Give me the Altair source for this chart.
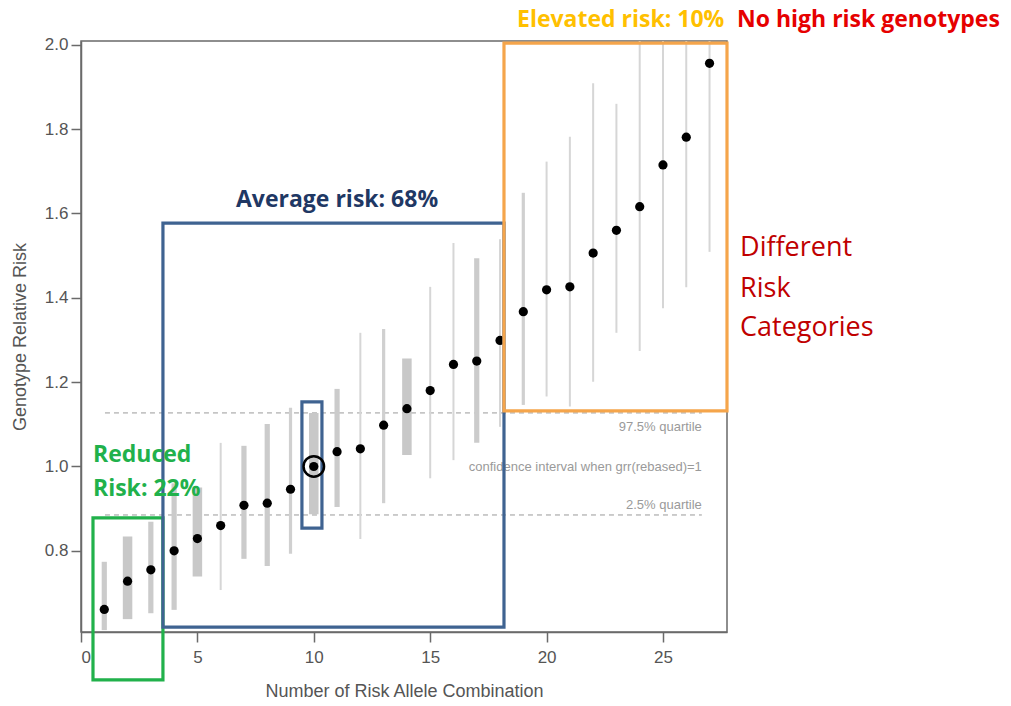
import altair as alt
import pandas as pd

# ---- data ----
combo = list(range(1, 28))
grr = [0.661, 0.728, 0.755, 0.800, 0.829, 0.860, 0.908, 0.913, 0.946, 1.000,
       1.035, 1.042, 1.098, 1.137, 1.180, 1.242, 1.250, 1.299, 1.367, 1.419,
       1.426, 1.506, 1.560, 1.616, 1.715, 1.781, 1.956]
ci_low = [0.612, 0.638, 0.652, 0.660, 0.739, 0.707, 0.781, 0.764, 0.793, 0.887,
          0.904, 0.828, 0.913, 1.027, 0.972, 1.015, 1.056, 1.094, 1.146, 1.166,
          1.142, 1.201, 1.317, 1.274, 1.375, 1.425, 1.509]
ci_high = [0.774, 0.834, 0.869, 0.960, 0.950, 1.056, 1.049, 1.101, 1.139, 1.127,
           1.184, 1.317, 1.326, 1.256, 1.426, 1.530, 1.494, 1.539, 1.649, 1.723,
           1.782, 1.909, 1.860, 2.050, 2.050, 2.050, 2.050]
weight = ["medium", "thick", "medium", "medium", "thick", "thin", "medium", "medium",
          "narrow", "thick", "medium", "thin", "narrow", "thick", "thin", "thin",
          "medium", "thin", "narrow", "thin", "thin", "thin", "thin", "thin",
          "thin", "thin", "thin"]
quartile_levels = [1.127, 0.885]
quartile_labels = ["97.5% quartile", "confidence interval when grr(rebased)=1", "2.5% quartile"]

# ---- layout / styles ----
W, H = 646, 591
xs = alt.Scale(domain=[0, 27.75], nice=False, zero=False)
ys = alt.Scale(domain=[0.6075, 2.009], nice=False, zero=False)
FONT = "Liberation Sans"
ANN = "Open Sans"
xax = alt.Axis(values=[0, 5, 10, 15, 20, 25], title="Number of Risk Allele Combination",
               grid=False, tickSize=10, labelPadding=7, titlePadding=17)
yax = alt.Axis(values=[0.8, 1.0, 1.2, 1.4, 1.6, 1.8, 2.0], format=".1f",
               title="Genotype Relative Risk", grid=False, tickSize=10,
               labelPadding=3, titlePadding=15)


def X(field="x"):
    return alt.X(f"{field}:Q", scale=xs, axis=xax)


def Y(field="y"):
    return alt.Y(f"{field}:Q", scale=ys, axis=yax)


df = pd.DataFrame({"x": combo, "y": grr, "lo": ci_low, "hi": ci_high, "w": weight})

bar_style = {"thin": (2.0, "#d6d6d6"), "narrow": (3.2, "#d0d0d0"),
             "medium": (5.2, "#cbcbcb"), "thick": (9.5, "#c8c8c8")}
bar_layers = []
for key, (sw, col) in bar_style.items():
    bar_layers.append(
        alt.Chart(df).transform_filter(alt.datum.w == key)
        .mark_rule(clip=True, strokeWidth=sw, color=col)
        .encode(x=X(), y=Y("lo"), y2="hi")
    )

points = alt.Chart(df).mark_point(filled=True, color="black", size=85, opacity=1).encode(
    x=X(), y=Y())

# dashed quartile lines
qdf = pd.DataFrame({"y": quartile_levels, "x": [1.03, 1.03], "x2": [26.67, 26.67]})
qlines = alt.Chart(qdf).mark_rule(color="#9a9a9a", strokeDash=[5, 4], strokeWidth=1).encode(
    x=X(), x2="x2", y=Y())

qtext_df = pd.DataFrame({"x": [26.67] * 3, "y": [1.094, 0.999, 0.909], "t": quartile_labels})
qtext = alt.Chart(qtext_df).mark_text(align="right", baseline="middle", font=FONT,
                                      fontSize=13, color="#9a9a9a").encode(
    x=X(), y=Y(), text="t:N")

# category boxes
boxes_df = pd.DataFrame({
    "x": [0.515, 3.52, 9.49, 18.17],
    "x2": [3.52, 18.17, 10.35, 27.75],
    "y": [0.494, 0.619, 0.854, 1.132],
    "y2": [0.878, 1.577, 1.153, 2.004],
    "c": ["#21b14b", "#3f6391", "#3f6391", "#f5a54b"],
})
boxes = alt.Chart(boxes_df).mark_rect(filled=False, strokeWidth=3.2).encode(
    x=X(), x2="x2", y=Y(), y2="y2", stroke=alt.Stroke("c:N", scale=None))

ring = alt.Chart(pd.DataFrame({"x": [10], "y": [1.0]})).mark_point(
    shape="circle", size=420, filled=False, color="black", strokeWidth=2.5, opacity=1).encode(
    x=X(), y=Y())


def text_layer(rows, size, weight, align="left"):
    d = pd.DataFrame(rows, columns=["x", "y", "t", "c"])
    return alt.Chart(d).mark_text(align=align, baseline="middle", font=ANN, fontSize=size,
                                  fontWeight=weight).encode(
        x=X(), y=Y(), text="t:N", color=alt.Color("c:N", scale=None))


bold_txt = text_layer([
    (11.0, 1.632, "Average risk: 68%", "#1f3864"),
], 23, "bold", align="center")
green_txt = text_layer([
    (0.515, 1.027, "Reduced", "#21b14b"),
    (0.515, 0.947, "Risk: 22%", "#21b14b"),
], 23, "bold")
top_txt = text_layer([
    (18.73, 2.059, "Elevated risk: 10%", "#ffc000"),
    (28.18, 2.059, "No high risk genotypes", "#e60000"),
], 23, "bold")
cat_txt = text_layer([
    (28.31, 1.518, "Different", "#c00000"),
    (28.31, 1.421, "Risk", "#c00000"),
    (28.31, 1.328, "Categories", "#c00000"),
], 27, "normal")

chart = alt.layer(
    qlines, *bar_layers, points, qtext, boxes, ring, bold_txt, green_txt, top_txt, cat_txt
).properties(
    width=W, height=H,
    autosize=alt.AutoSizeParams(type="none"),
    padding={"left": 81, "top": 41, "right": 284, "bottom": 74},
    background="white",
).configure_view(
    stroke="#6a6a6a", strokeWidth=1.5
).configure_axis(
    domainColor="#6a6a6a", domainWidth=1.5, tickColor="#6a6a6a", tickWidth=1.5,
    labelFont=FONT, labelFontSize=17, labelColor="#555555",
    titleFont=FONT, titleFontSize=18, titleColor="#555555", titleFontWeight="normal",
)

chart.save("out.html", embed_options={"renderer": "svg", "actions": False})
